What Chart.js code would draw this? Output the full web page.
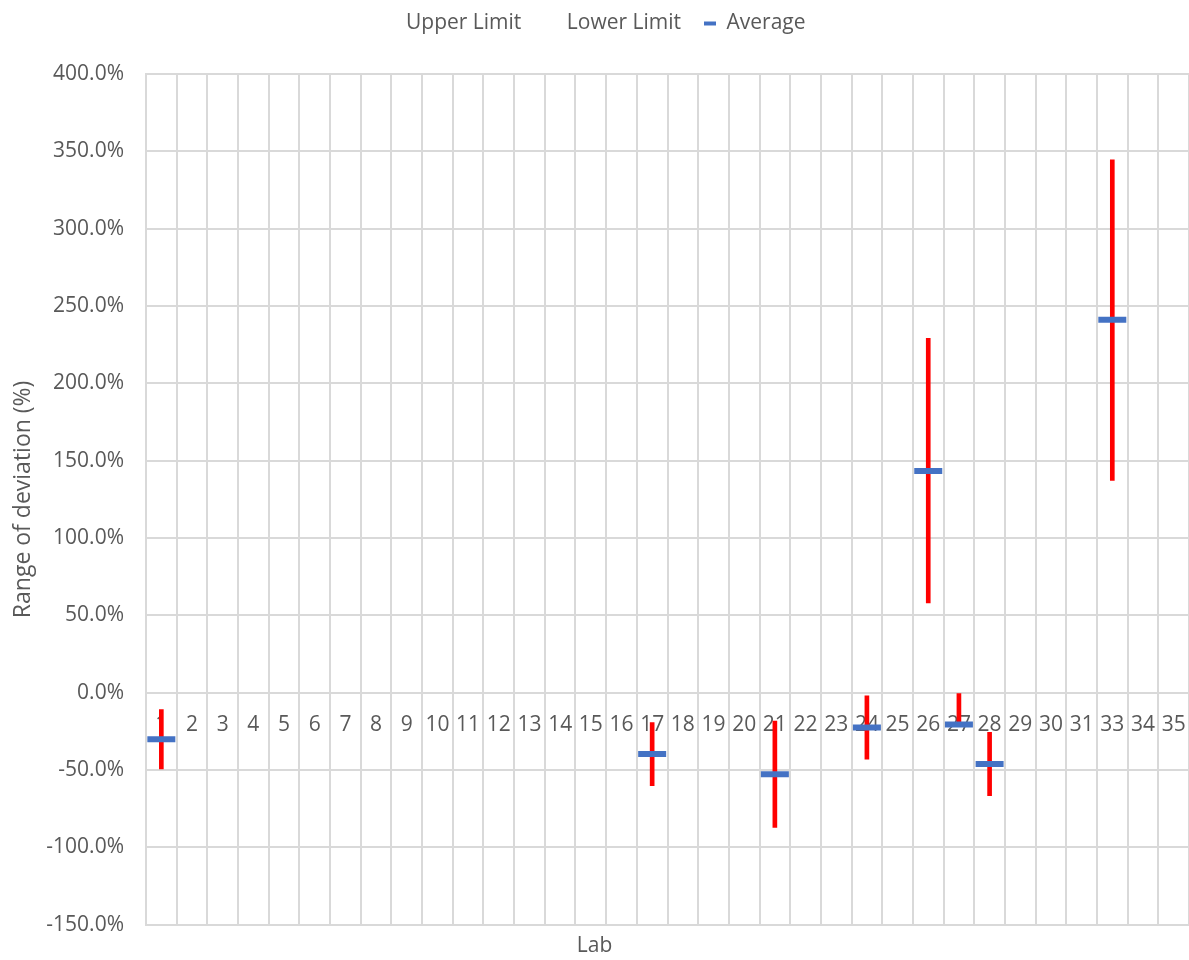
<!DOCTYPE html>
<html>
<head>
<meta charset="utf-8">
<script src="https://cdn.jsdelivr.net/npm/chart.js@4"></script>
<style>
  html, body { margin: 0; padding: 0; background: #fff; }
  #wrap { width: 1189px; height: 960px; }
</style>
</head>
<body>
<div id="wrap"><canvas id="labChart" width="1189" height="960"></canvas></div>
<script>
// lab numbers on the x axis (there is no lab 32)
const labs = ['1','2','3','4','5','6','7','8','9','10','11','12','13','14','15','16','17','18',
  '19','20','21','22','23','24','25','26','27','28','29','30','31','33','34','35'];

// deviation in percent, null where a lab reported nothing
const upperLimit = [-10.8, null, null, null, null, null, null, null, null, null, null, null, null, null, null, null,
  -19.2, null, null, null, -18.3, null, null, -2.0, null, 229.1, -0.5, -25.6, null, null, null, 344.5, null, null];
const lowerLimit = [-49.3, null, null, null, null, null, null, null, null, null, null, null, null, null, null, null,
  -60.1, null, null, null, -87.0, null, null, -42.9, null, 58.0, -20.0, -66.6, null, null, null, 137.2, null, null];
const average = [-30.0, null, null, null, null, null, null, null, null, null, null, null, null, null, null, null,
  -39.6, null, null, null, -52.7, null, null, -22.4, null, 143.3, -20.5, -46.1, null, null, null, 241.2, null, null];

const yTicks = { min: -150, max: 400, step: 50 };

const gridGrey = '#d9d9d9';
const textGrey = '#595959';

// red high-low bars built from the two limit arrays
const rangeBars = labs.map((_, i) => upperLimit[i] == null ? null : [lowerLimit[i], upperLimit[i]]);

// extra room under the legend so the plot starts lower
const legendSpace = {
  id: 'legendSpace',
  beforeInit(chart) {
    const fit = chart.legend.fit;
    chart.legend.fit = function () {
      fit.call(this);
      this.height += 30;
    };
  }
};

const ctx = document.getElementById('labChart');

const data = {
  labels: labs,
  datasets: [
    {
      type: 'line',
      label: 'Upper Limit',
      data: upperLimit,
      showLine: false,
      pointRadius: 0,
      pointStyle: 'line',
      borderColor: 'rgba(0,0,0,0)',
      backgroundColor: 'rgba(0,0,0,0)',
      order: 3
    },
    {
      type: 'line',
      label: 'Lower Limit',
      data: lowerLimit,
      showLine: false,
      pointRadius: 0,
      pointStyle: 'line',
      borderColor: 'rgba(0,0,0,0)',
      backgroundColor: 'rgba(0,0,0,0)',
      order: 3
    },
    {
      type: 'line',
      label: 'Average',
      data: average,
      showLine: false,
      pointStyle: 'line',
      pointRadius: 14,
      pointHoverRadius: 14,
      pointBorderWidth: 6,
      borderWidth: 6,
      borderColor: '#4472c4',
      backgroundColor: '#4472c4',
      order: 1
    },
    {
      type: 'bar',
      label: 'range',
      data: rangeBars,
      backgroundColor: '#ff0000',
      barThickness: 4,
      borderSkipped: false,
      order: 2
    }
  ]
};

const config = {
  type: 'bar',
  data: data,
  plugins: [legendSpace],
  options: {
    responsive: false,
    animation: false,
    layout: { autoPadding: false, padding: { top: -10, left: 0, right: 0, bottom: 0 } },
    plugins: {
      legend: {
        position: 'top',
        labels: {
          color: textGrey,
          font: { family: 'Open Sans', size: 21 },
          usePointStyle: true,
          pointStyleWidth: 12,
          boxHeight: 12,
          padding: 23,
          filter: (item) => item.text !== 'range',
          sort: (a, b) => a.datasetIndex - b.datasetIndex,
          generateLabels: (chart) => {
            const items = Chart.defaults.plugins.legend.labels.generateLabels(chart);
            items.forEach(it => { if (it.text === 'Average') it.lineWidth = 4; });
            return items;
          }
        }
      },
      title: {
        display: true,
        position: 'bottom',
        text: 'Lab',
        color: textGrey,
        font: { family: 'Open Sans', size: 21, weight: 'normal' },
        padding: { top: 9, bottom: 1 }
      },
      tooltip: { enabled: false }
    },
    scales: {
      x: {
        type: 'category',
        position: { y: 0 },
        offset: true,
        // the axis sits inside the plot, so it needs no side padding
        afterFit: (scale) => { scale.paddingLeft = 0; scale.paddingRight = 0; },
        grid: { color: gridGrey, lineWidth: 2, offset: true, drawTicks: false },
        border: { color: gridGrey, width: 2 },
        ticks: {
          color: textGrey,
          font: { family: 'Open Sans', size: 21 },
          padding: 20,
          autoSkip: false,
          maxRotation: 0
        }
      },
      y: {
        min: yTicks.min,
        max: yTicks.max,
        afterFit: (scale) => { scale.width = 146; },
        grid: { color: gridGrey, lineWidth: 2, drawTicks: false },
        border: { color: gridGrey, width: 2 },
        ticks: {
          stepSize: yTicks.step,
          color: textGrey,
          font: { family: 'Open Sans', size: 21 },
          padding: 22,
          callback: (v) => v.toFixed(1) + '%'
        },
        title: {
          display: true,
          text: 'Range of deviation (%)',
          color: textGrey,
          font: { family: 'Open Sans', size: 23 },
          padding: { top: 10, bottom: 0 }
        }
      }
    }
  }
};

const labChart = new Chart(ctx, config);
</script>
</body>
</html>
